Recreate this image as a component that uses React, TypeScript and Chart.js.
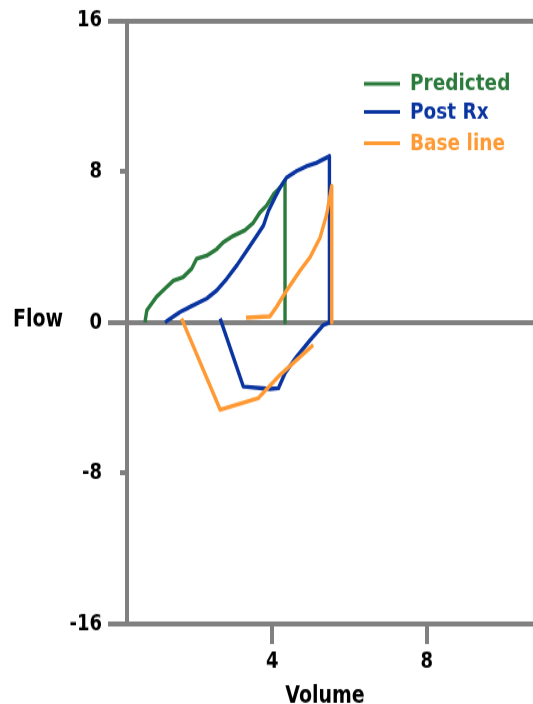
import React, { useEffect, useRef } from 'react';
import { Chart, registerables } from 'chart.js';

Chart.register(...registerables);

// ---- data ----
const seriesLabels = ['Predicted', 'Post Rx', 'Base line'];
const seriesColors = ['#2a7a3c', '#0a35a0', '#ff9933'];

const predictedVolume = [0.70, 0.75, 1.00, 1.22, 1.44, 1.69, 1.91, 2.04, 2.30, 2.56, 2.73, 2.99, 3.29, 3.51, 3.68, 3.85, 4.03, 4.20, 4.33, 4.33];
const predictedFlow = [0.0, 0.65, 1.36, 1.80, 2.23, 2.41, 2.85, 3.38, 3.55, 3.90, 4.26, 4.60, 4.90, 5.30, 5.84, 6.20, 6.80, 7.16, 7.55, 0.0];

const postRxVolume = [1.22, 1.35, 1.61, 1.87, 2.30, 2.56, 2.82, 3.08, 3.34, 3.60, 3.77, 3.90, 4.07, 4.20, 4.37, 4.63, 4.89, 5.15, 5.48, 5.48, 5.32, 4.98, 4.63, 4.33, 4.16, 3.94, 3.25, 2.65];
const postRxFlow = [0.0, 0.2, 0.56, 0.83, 1.27, 1.70, 2.32, 3.03, 3.82, 4.61, 5.14, 5.93, 6.64, 7.16, 7.69, 8.04, 8.30, 8.48, 8.83, 0.0, -0.14, -0.93, -1.81, -2.69, -3.48, -3.52, -3.40, 0.21];

const baseVolume = [3.32, 3.94, 4.11, 4.37, 4.72, 4.98, 5.24, 5.41, 5.54, 5.54, 5.54, 5.06, 4.20, 3.64, 2.65, 1.65];
const baseFlow: (number | null)[] = [0.26, 0.33, 0.83, 1.70, 2.76, 3.47, 4.52, 5.75, 7.25, 0.0, null, -1.2, -2.78, -4.01, -4.63, 0.21];

const yTicks = [-16, -8, 0, 8, 16];
const yMajor = [-16, 0, 16];
const xTicks = [4, 8];
const xRange = [0.236, 10.754];
const yTitle = 'Flow';
const xTitle = 'Volume';

const zip = (xs: number[], ys: (number | null)[]) => xs.map((x, i) => ({ x, y: ys[i] }));

const GREY = '#808080';
const FONT = '"DejaVu Sans", Verdana, sans-serif';

const chromePlugin = {
  id: 'chrome',
  afterDraw(chart: any) {
    const ctx = chart.ctx;
    const ys = chart.scales.y;
    ctx.save();
    // minor y ticks (short)
    ctx.strokeStyle = GREY;
    ctx.lineWidth = 4;
    yTicks.filter(v => !yMajor.includes(v)).forEach(v => {
      const py = Math.round(ys.getPixelForValue(v));
      ctx.beginPath();
      ctx.moveTo(ys.right - 7, py);
      ctx.lineTo(ys.right, py);
      ctx.stroke();
    });
    // axis titles
    ctx.fillStyle = '#000';
    ctx.font = `bold 19px ${FONT}`;
    ctx.textAlign = 'left';
    ctx.textBaseline = 'alphabetic';
    ctx.fillText(yTitle, 13, ys.getPixelForValue(0) + 3.5);
    ctx.textAlign = 'center';
    ctx.fillText(xTitle, 325, chart.height - 1);
    // legend
    const legendY = [67, 89.6, 114.4];
    ctx.font = `bold 18.5px ${FONT}`;
    ctx.textAlign = 'left';
    ctx.textBaseline = 'middle';
    seriesLabels.forEach((lab, i) => {
      ctx.strokeStyle = seriesColors[i];
      ctx.lineWidth = 3;
      ctx.beginPath();
      ctx.moveTo(364, legendY[i]);
      ctx.lineTo(400, legendY[i]);
      ctx.stroke();
      ctx.fillStyle = seriesColors[i];
      ctx.fillText(lab, 410, legendY[i] + 0.5);
    });
    ctx.restore();
  },
};

export default function App() {
  const ref = useRef<HTMLCanvasElement | null>(null);
  useEffect(() => {
    if (!ref.current) return;
    const majorColor = (c: any) => (yMajor.includes(c.tick?.value) ? GREY : 'rgba(0,0,0,0)');
    const chart = new Chart(ref.current, {
      type: 'line',
      data: {
        datasets: [
          { label: seriesLabels[0], data: zip(predictedVolume, predictedFlow), borderColor: seriesColors[0], order: 2 },
          { label: seriesLabels[1], data: zip(postRxVolume, postRxFlow), borderColor: seriesColors[1], order: 1 },
          { label: seriesLabels[2], data: zip(baseVolume, baseFlow), borderColor: seriesColors[2], order: 0 },
        ].map(d => ({ ...d, borderWidth: 3.4, pointRadius: 0, tension: 0, fill: false, spanGaps: false, borderJoinStyle: 'round' as const })),
      },
      options: {
        responsive: false,
        maintainAspectRatio: false,
        animation: false,
        devicePixelRatio: 1,
        layout: { padding: { top: 14, left: 0, right: 0, bottom: 0 } },
        plugins: { legend: { display: false }, tooltip: { enabled: false } },
        scales: {
          x: {
            type: 'linear',
            min: xRange[0],
            max: xRange[1],
            afterBuildTicks: (s: any) => { s.ticks = xTicks.map(v => ({ value: v })); },
            afterFit: (s: any) => { s.height = 64; },
            border: { display: false },
            grid: { drawOnChartArea: false, drawTicks: true, tickLength: 16, color: GREY, lineWidth: 4 },
            ticks: { color: '#000', font: { family: FONT, size: 18, weight: 'bold' }, padding: 4, maxRotation: 0 },
          },
          y: {
            type: 'linear',
            min: -16,
            max: 16,
            afterBuildTicks: (s: any) => { s.ticks = yTicks.map(v => ({ value: v })); },
            afterFit: (s: any) => { s.width = 127; },
            border: { display: true, color: GREY, width: 4 },
            grid: { color: majorColor, tickColor: majorColor, lineWidth: 4, drawTicks: true, tickLength: 19 },
            ticks: { color: '#000', font: { family: FONT, size: 18, weight: 'bold' }, padding: 6 },
          },
        },
      },
      plugins: [chromePlugin],
    } as any);
    return () => chart.destroy();
  }, []);
  return (
    <div style={{ position: 'fixed', left: 0, top: 0, width: 533, height: 704, background: '#fff' }}>
      <canvas ref={ref} width={533} height={563} style={{ width: '533px', height: '704px', display: 'block' }} />
    </div>
  );
}
